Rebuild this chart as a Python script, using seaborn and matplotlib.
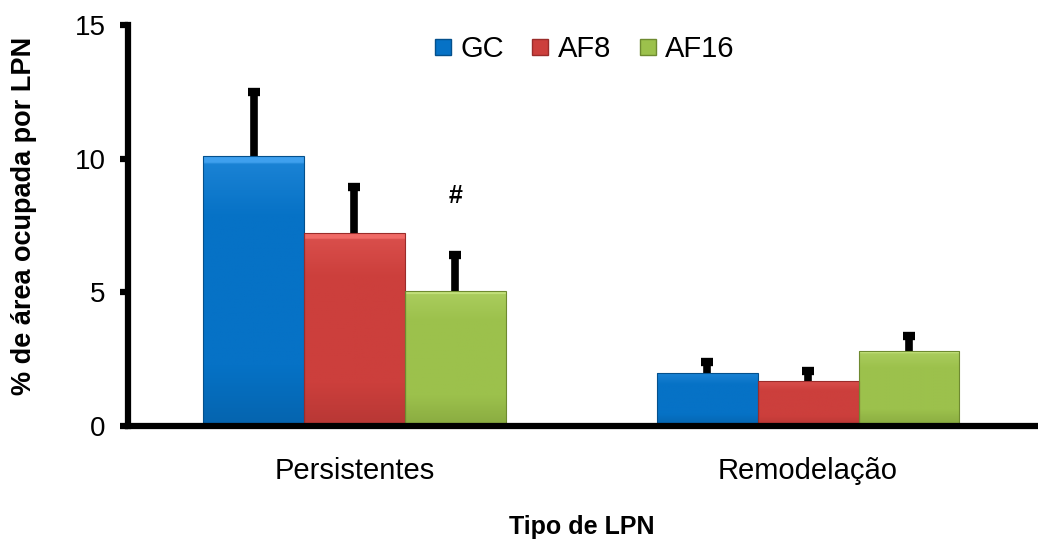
import numpy as np
import pandas as pd
import matplotlib
matplotlib.use("Agg")
import matplotlib.pyplot as plt
import seaborn as sns
from matplotlib.colors import LinearSegmentedColormap
from matplotlib.lines import Line2D

# Datos
tipos = ["Persistentes", "Remodelação"]
grupos = ["GC", "AF8", "AF16"]
gc = [10.1, 2.0]
af8 = [7.2, 1.7]
af16 = [5.05, 2.8]
gc_err = [2.4, 0.4]
af8_err = [1.75, 0.35]
af16_err = [1.35, 0.55]
colores = ["#0672C6", "#CC3F3C", "#9CC14C"]
oscuros = ["#04508C", "#9A2C2A", "#6E8A30"]
claros = ["#3FA0EE", "#F06A66", "#C2E07A"]

df = pd.DataFrame({
    "Tipo": tipos * 3,
    "Grupo": [g for g in grupos for _ in tipos],
    "Valor": gc + af8 + af16,
    "Err": gc_err + af8_err + af16_err,
})

sns.set_style("white")
plt.rcParams["font.family"] = ["Liberation Sans", "DejaVu Sans"]
plt.rcParams["text.color"] = "black"
plt.rcParams["axes.labelcolor"] = "black"
plt.rcParams["xtick.color"] = "black"
plt.rcParams["ytick.color"] = "black"

fig = plt.figure(figsize=(10.38, 5.41), dpi=100)
ax = fig.add_axes([0.123, 0.2126, 0.874, 0.7414])

sns.barplot(data=df, x="Tipo", y="Valor", hue="Grupo", palette=colores,
            width=0.667, errorbar=None, ax=ax, edgecolor="none", legend=False)

# degradado tipo "bisel" de Excel + barras de error
barras = list(ax.containers)
for i, cont in enumerate(barras):
    cmap = LinearSegmentedColormap.from_list("g", [oscuros[i], colores[i], colores[i], claros[i]])
    errs = [gc_err, af8_err, af16_err][i]
    for j, bar in enumerate(cont):
        x0, w, h = bar.get_x(), bar.get_width(), bar.get_height()
        grad = np.linspace(0, 1, 100).reshape(-1, 1)
        grad = np.where(grad > 0.97, 1.0, grad * 0.6 + 0.2)
        im = ax.imshow(grad, extent=[x0, x0 + w, 0, h], origin="lower",
                       cmap=cmap, vmin=0, vmax=1, aspect="auto", zorder=2)
        im.set_clip_path(bar)
        bar.set_edgecolor(oscuros[i])
        bar.set_linewidth(0.8)
        bar.set_zorder(2.5)
        bar.set_facecolor("none")
        # solo la parte superior del error
        ax.vlines(x0 + w / 2, h, h + errs[j], color="black", lw=5.5, zorder=1.5)
        ax.plot(x0 + w / 2, h + errs[j], marker="_", markersize=9, mew=6,
                color="black", zorder=1.6)

ax.set_xlim(-0.5, 1.5)
ax.set_ylim(0, 15)
ax.set_yticks([0, 5, 10, 15])
ax.set_xticks([0.5], minor=True)
ax.set_xticks([0, 1])
ax.set_xticklabels(tipos)
ax.tick_params(axis="x", which="major", length=0, labelsize=21, pad=22)
ax.tick_params(axis="x", which="minor", length=7, width=4.5, direction="out")
ax.tick_params(axis="y", length=6, width=4.5, direction="out", left=True, labelsize=20, pad=10)

sns.despine(ax=ax)
ax.spines["left"].set_linewidth(4.5)
ax.spines["bottom"].set_linewidth(4.5)
ax.spines["left"].set_color("black")
ax.spines["bottom"].set_color("black")

ax.set_ylabel("% de área ocupada por LPN", fontsize=19.5, fontweight="bold")
ax.yaxis.set_label_coords(-0.1, 0.525)
ax.set_xlabel("Tipo de LPN", fontsize=18, fontweight="bold", labelpad=22)

# marca de significancia sobre AF16 Persistentes
bar16 = barras[2][0]
ax.text(bar16.get_x() + bar16.get_width() / 2, 8.6, "#", ha="center", va="center",
        fontsize=18, fontweight="bold")

handles = [Line2D([], [], marker="s", linestyle="none", markersize=12,
                  markerfacecolor=c, markeredgecolor=o) for c, o in zip(colores, oscuros)]
ax.legend(handles, grupos, loc="center", bbox_to_anchor=(0.5, 0.94), ncol=3,
          frameon=False, fontsize=21, handletextpad=0.1, columnspacing=0.75,
          handlelength=1.0)

fig.savefig("out.png", dpi=100)
